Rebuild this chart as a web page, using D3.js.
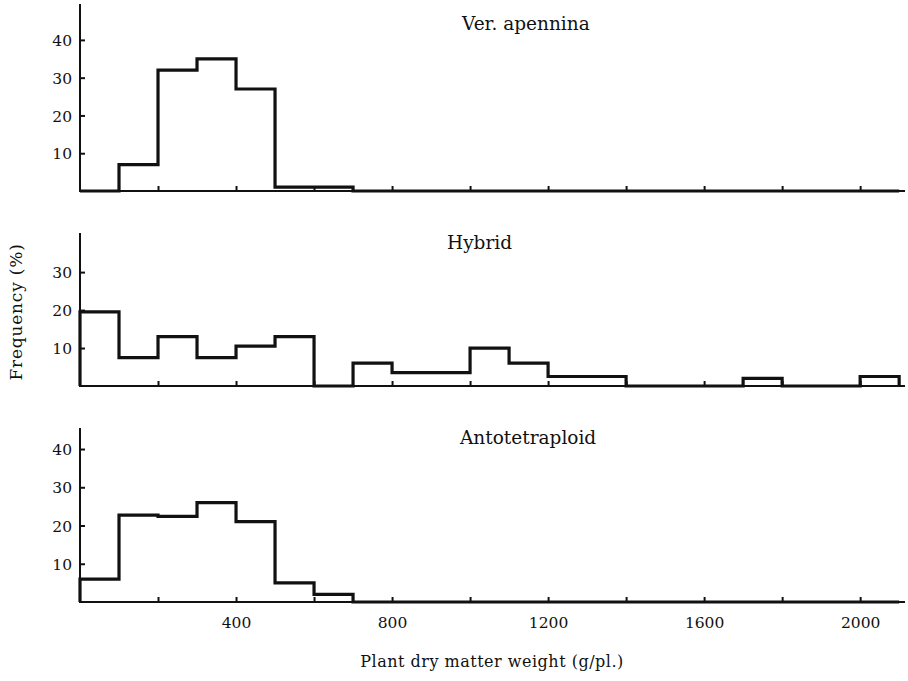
<!DOCTYPE html>
<html>
<head>
<meta charset="utf-8">
<script src="https://cdn.jsdelivr.net/npm/d3@7"></script>
<style>
  html, body { margin: 0; padding: 0; background: #fff; }
  svg text { font-family: "DejaVu Serif", "Liberation Serif", serif; fill: #111; }
</style>
</head>
<body>
<svg id="chart" width="908" height="681"></svg>
<script>
// Bin edges (g/plant), 100 g wide, 0 – 2100
const binStarts = d3.range(0, 2100, 100);

// Frequency (%) per bin for each population
const apennina = [0, 7, 32, 35, 27, 1, 1, 0, 0, 0, 0, 0, 0, 0, 0, 0, 0, 0, 0, 0, 0];
const hybrid   = [19.5, 7.5, 13, 7.5, 10.5, 13, 0, 6, 3.5, 3.5, 10, 6, 2.5, 2.5, 0, 0, 0, 2, 0, 0, 2.5];
const tetra    = [6, 22.7, 22.4, 26, 21, 5, 2, 0, 0, 0, 0, 0, 0, 0, 0, 0, 0, 0, 0, 0, 0];

const panelNames = ["Ver. apennina", "Hybrid", "Antotetraploid"];
const yTicksTop = [10, 20, 30, 40];
const yTicksMid = [10, 20, 30];
const yTicksBot = [10, 20, 30, 40];
const xTickLabels = [400, 800, 1200, 1600, 2000];
const xTickMarks = d3.range(200, 2001, 200);

const svg = d3.select("#chart");
const ink = "#111";
const serif = "'DejaVu Serif', 'Liberation Serif', serif";

const x = d3.scaleLinear().domain([0, 2115]).range([80, 905]);

const panels = [
  { name: panelNames[0], data: apennina, base: 191, top: 4,   ymax: 49.5, ticks: yTicksTop, titleX: 462, titleY: 30 },
  { name: panelNames[1], data: hybrid,   base: 386, top: 233, ymax: 40.3, ticks: yTicksMid, titleX: 447, titleY: 249 },
  { name: panelNames[2], data: tetra,    base: 602, top: 428, ymax: 45.5, ticks: yTicksBot, titleX: 460, titleY: 444 }
];

panels.forEach((p, i) => {
  const y = d3.scaleLinear().domain([0, p.ymax]).range([p.base, p.top]);
  const g = svg.append("g");

  // Histogram outline
  const pts = [[0, 0]].concat(binStarts.map((b, k) => [b, p.data[k]]));
  pts.push([2100, p.data[p.data.length - 1]]);
  pts.push([2100, 0]);
  const line = d3.line().x(d => x(d[0])).y(d => y(d[1])).curve(d3.curveStepAfter);
  g.append("path")
    .attr("d", line(pts))
    .attr("fill", "none")
    .attr("stroke", ink)
    .attr("stroke-width", 3.2)
    .attr("stroke-linejoin", "miter");

  // Y axis: ticks point inward, labels on the left
  const yAxis = d3.axisRight(y).tickValues(p.ticks).tickSize(5).tickFormat(d3.format("d"));
  const ya = g.append("g").attr("transform", `translate(${x(0)},0)`).call(yAxis);
  ya.select(".domain").remove();
  ya.selectAll(".tick line").attr("stroke", ink).attr("stroke-width", 2);
  ya.selectAll(".tick text")
    .attr("x", -8).attr("text-anchor", "end").attr("dy", "0.36em")
    .style("font-size", "15.5px").style("font-family", serif);
  g.append("line")
    .attr("x1", x(0)).attr("x2", x(0))
    .attr("y1", p.top).attr("y2", p.base + 1)
    .attr("stroke", ink).attr("stroke-width", 2);

  // X axis baseline with upward ticks
  const xAxis = d3.axisTop(x).tickValues(xTickMarks).tickSize(5).tickFormat("");
  const xa = g.append("g").attr("transform", `translate(0,${p.base})`).call(xAxis);
  xa.select(".domain").remove();
  xa.selectAll(".tick line").attr("stroke", ink).attr("stroke-width", 2);
  g.append("line")
    .attr("x1", x(0) - 1).attr("x2", x(2115))
    .attr("y1", p.base).attr("y2", p.base)
    .attr("stroke", ink).attr("stroke-width", 2);

  if (i === 2) {
    const xb = d3.axisBottom(x).tickValues(xTickLabels).tickSize(0).tickFormat(d3.format("d"));
    const xl = g.append("g").attr("transform", `translate(0,${p.base})`).call(xb);
    xl.select(".domain").remove();
    xl.selectAll(".tick text")
      .attr("y", 15).attr("dy", "0.71em")
      .style("font-size", "15.5px").style("font-family", serif);
  }

  g.append("text")
    .attr("x", p.titleX).attr("y", p.titleY)
    .style("font-size", "18.5px")
    .style("font-family", serif)
    .text(p.name);
});

// Axis titles
svg.append("text")
  .attr("x", 492).attr("y", 667)
  .attr("text-anchor", "middle")
  .style("font-size", "16px")
  .style("font-family", serif)
  .style("letter-spacing", "0.5px")
  .text("Plant dry matter weight (g/pl.)");

svg.append("text")
  .attr("transform", "translate(22,312) rotate(-90)")
  .attr("text-anchor", "middle")
  .style("font-size", "17px")
  .style("font-family", serif)
  .style("letter-spacing", "0.8px")
  .text("Frequency (%)");
</script>
</body>
</html>
